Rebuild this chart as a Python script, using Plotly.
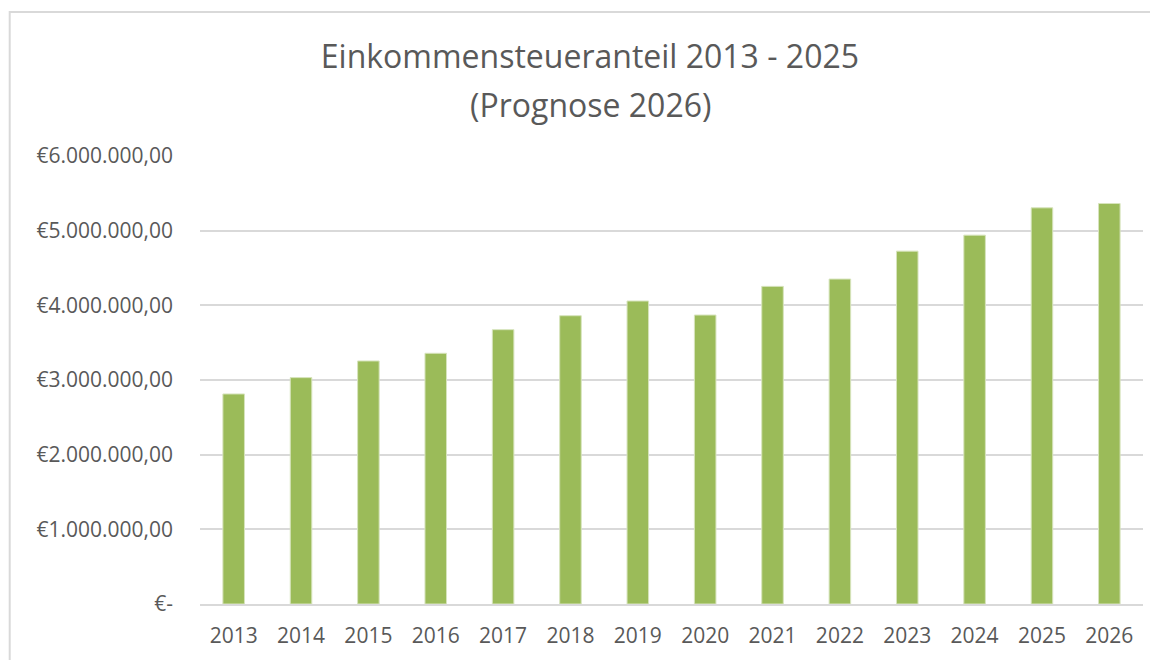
import plotly.graph_objects as go

years = ["2013", "2014", "2015", "2016", "2017", "2018", "2019", "2020",
         "2021", "2022", "2023", "2024", "2025", "2026"]
values = [2813000, 3032000, 3255000, 3358000, 3674000, 3861000, 4058000,
          3870000, 4254000, 4352000, 4726000, 4940000, 5306000, 5364000]
tick_vals = [0, 1000000, 2000000, 3000000, 4000000, 5000000, 6000000]
tick_text = ["€-", "€1.000.000,00", "€2.000.000,00", "€3.000.000,00",
             "€4.000.000,00", "€5.000.000,00", "€6.000.000,00"]
title_line1 = "Einkommensteueranteil 2013 - 2025"
title_line2 = "(Prognose 2026)"

fig = go.Figure()
fig.add_trace(go.Bar(
    x=years, y=values,
    marker=dict(color="#9BBB59", line=dict(color="#d7e4bd", width=1)),
    hoverinfo="x+y",
))

fig.update_layout(
    width=1150, height=652,
    margin=dict(l=192, r=15, t=148, b=56),
    paper_bgcolor="white", plot_bgcolor="white",
    bargap=0.68,
    showlegend=False,
    font=dict(family="Open Sans", color="#595959", size=21),
    title=dict(text=title_line1, x=0.506, xanchor="center", y=0.925, yanchor="middle",
               font=dict(family="Open Sans", size=32, color="#595959")),
    annotations=[dict(text=title_line2, xref="paper", yref="paper",
                      x=0.4136, y=1.116, xanchor="center", yanchor="middle",
                      showarrow=False,
                      font=dict(family="Open Sans", size=32, color="#595959"))],
    xaxis=dict(showgrid=False, showline=True, linecolor="#d9d9d9", linewidth=2,
               ticks="", tickfont=dict(size=21, color="#595959"), ticklabelstandoff=12),
    yaxis=dict(range=[0, 6000000], tickvals=tick_vals, ticktext=tick_text,
               showgrid=True, gridcolor="#d9d9d9", gridwidth=2, zeroline=False,
               showline=False, ticks="", ticklabelstandoff=26,
               tickfont=dict(size=21, color="#595959")),
    shapes=[dict(type="rect", xref="paper", yref="paper",
                 x0=-0.2018, x1=1.2, y0=-0.3, y1=1.3215,
                 line=dict(color="#d9d9d9", width=2), layer="below")],
)

fig.write_html("out.html")
